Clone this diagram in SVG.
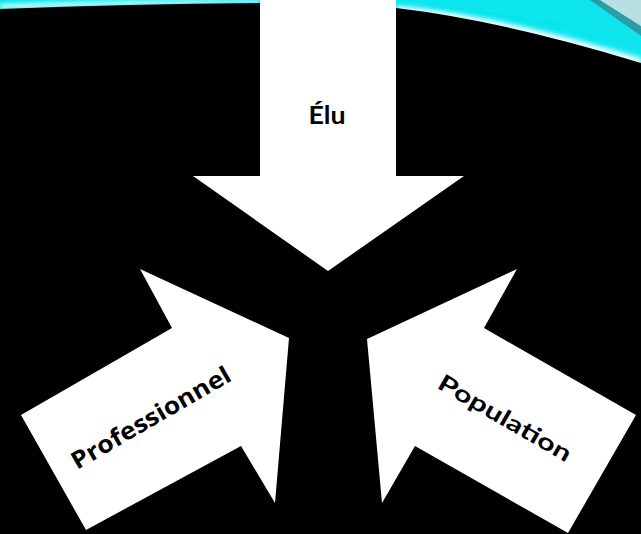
<svg xmlns="http://www.w3.org/2000/svg" width="641" height="534" viewBox="0 0 641 534">
  <defs>
    <linearGradient id="sky" x1="0" y1="0" x2="0" y2="1">
      <stop offset="0" stop-color="#00e4ee"/>
      <stop offset="1" stop-color="#b8f8fa"/>
    </linearGradient>
    <filter id="blur" x="-10%" y="-50%" width="120%" height="200%">
      <feGaussianBlur stdDeviation="2.5"/>
    </filter>
    <filter id="soft">
      <feGaussianBlur stdDeviation="0.5"/>
    </filter>
  </defs>
  <style>
    .arrow { fill: #ffffff; }
    .label { fill: #000000; font-family: "Century Gothic", "URW Gothic", Lato, "Open Sans", sans-serif; font-weight: bold; }
  </style>

  <g id="background">
    <rect x="0" y="0" width="641" height="534" fill="url(#sky)"/>
    <path d="M396,0 L641,0 L641,40 C 560,20 480,8 396,4 Z" fill="#12e6ee" opacity="0.7"/>
    <path d="M0,4 Q130,0 260,0 L260,3 Q130,5 0,9 Z" fill="#e8ffff" filter="url(#blur)"/>
    <path d="M396,10 Q500,20 641,63" fill="none" stroke="#f2ffff" stroke-width="9" filter="url(#blur)"/>
    <path d="M590,0 L600,0 L641,26 L641,36 Z" fill="#2a9ea4" filter="url(#soft)"/>
    <path d="M600,0 L641,0 L641,26 Z" fill="#b9dfe2"/>
    <path d="M0,9 Q130,4 260,3 L396,8 Q500,20 641,63 L641,534 L0,534 Z" fill="#000000" filter="url(#soft)"/>
  </g>

  <g id="node-elu">
    <polygon class="arrow" points="260,0 396,0 396,176 464,176 328,271 193,176 260,176"/>
    <text class="label" x="327" y="124" font-size="24" text-anchor="middle" textLength="37" lengthAdjust="spacingAndGlyphs">Élu</text>
  </g>

  <g id="node-professionnel">
    <polygon class="arrow" points="21,415 172,328 140,269 289,338 275,503 241,446 86,530"/>
    <g transform="translate(151,418) rotate(-30)">
      <text class="label" x="0" y="8" font-size="24" text-anchor="middle" textLength="180" lengthAdjust="spacingAndGlyphs" style="font-family:'Open Sans', 'Liberation Sans', sans-serif">Professionnel</text>
    </g>
  </g>

  <g id="node-population">
    <polygon class="arrow" points="367,339 517,269 484,328 636,415 568,533 415,446 382,503"/>
    <g transform="translate(505,418) rotate(30)">
      <text class="label" x="0" y="8" font-size="23" text-anchor="middle" textLength="150" lengthAdjust="spacingAndGlyphs">Population</text>
    </g>
  </g>

  <g id="connectors"></g>
</svg>
